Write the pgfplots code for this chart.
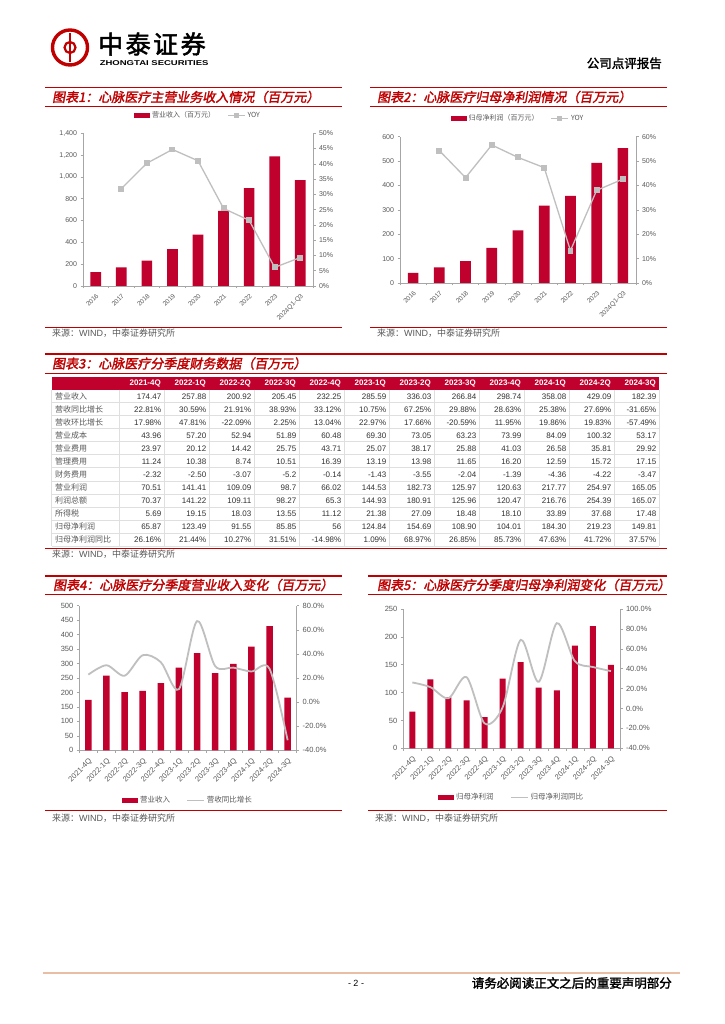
\documentclass[border=0pt]{standalone}
\usepackage{pgfplots}
\pgfplotsset{compat=1.18}
\usepackage{fontspec}
\setmainfont{Liberation Sans}
\newfontfamily\cjk{Noto Sans CJK SC}
\newfontfamily\cjkt[FakeSlant=0.18,FakeBold=2]{Noto Sans CJK SC}
\newfontfamily\cjkb[FakeBold=2]{Noto Sans CJK SC}
\definecolor{barred}{RGB}{192,0,45}
\definecolor{titred}{RGB}{192,0,0}
\definecolor{lgray}{RGB}{191,191,191}
\definecolor{tgray}{RGB}{89,89,89}
\definecolor{tdark}{RGB}{50,50,50}
\definecolor{foot}{RGB}{232,190,165}
\definecolor{agray}{RGB}{166,166,166}
\pgfplotsset{
  mystyle/.style={scale only axis, anchor=south west,
    axis line style={agray, line width=0.6pt},
    tick style={agray, line width=0.5pt}, tick align=outside,
    major tick length=2.5pt, minor tick length=2.5pt,
    ticklabel style={text=tgray},
    /pgf/number format/assume math mode=true, clip=false},
  barleg/.style={legend image code/.code={\fill[barred] (0pt,-2.5pt) rectangle (16pt,2.5pt);}},
}
\begin{document}
\begin{tikzpicture}[x=1pt,y=1pt]
\fill[white] (0,0) rectangle (724,1024);
\path[use as bounding box] (0,0) rectangle (724,1024);

% ---------- header ----------
\draw[titred, line width=3.4pt] (70,976.5) circle (17.5);
\draw[titred, line width=2.2pt] (70,962) -- (70,991);
\draw[titred, line width=2.2pt] (70,982) arc (90:270:5.5);
\draw[titred, line width=2.2pt] (70,971) arc (-90:90:5.5);
\node[anchor=west, inner sep=0, font=\cjkb\fontsize{25}{25}\selectfont\addfontfeatures{LetterSpace=10}] at (98,980) {中泰证券};
\node[anchor=west, inner sep=0, xscale=1.36, font=\bfseries\fontsize{7}{7}\selectfont] at (99.5,961) {ZHONGTAI SECURITIES};
\node[anchor=east, inner sep=0, font=\cjkb\fontsize{12.5}{12.5}\selectfont] at (662,960.7) {公司点评报告};

% ---------- section titles ----------
\foreach \xa/\xb/\ya/\yb in {45/342/936.7/918, 370/667/936.7/918, 45/667/670/651, 45/342/448/430, 368/667/448/430}{
  \draw[titred, line width=1.1pt] (\xa,\ya) -- (\xb,\ya);
  \draw[titred, line width=0.9pt] (\xa,\yb) -- (\xb,\yb);
}
\node[anchor=west, inner sep=0, text=titred, font=\cjkt\fontsize{13}{13}\selectfont] at (52,927) {图表1：心脉医疗主营业务收入情况（百万元）};
\node[anchor=west, inner sep=0, text=titred, font=\cjkt\fontsize{13}{13}\selectfont] at (377,927) {图表2：心脉医疗归母净利润情况（百万元）};
\node[anchor=west, inner sep=0, text=titred, font=\cjkt\fontsize{13}{13}\selectfont] at (52,660.5) {图表3：心脉医疗分季度财务数据（百万元）};
\node[anchor=west, inner sep=0, text=titred, font=\cjkt\fontsize{13}{13}\selectfont] at (53,439) {图表4：心脉医疗分季度营业收入变化（百万元）};
\node[anchor=west, inner sep=0, text=titred, font=\cjkt\fontsize{13}{13}\selectfont] at (377,439) {图表5：心脉医疗分季度归母净利润变化（百万元）};

% ---------- sources ----------
\foreach \xa/\xb/\yl/\yt in {45/342/696.7/691, 370/667/696.7/691, 45/667/476/469.5, 45/342/213.3/205.7, 368/667/213.3/205.7}{
  \draw[titred, line width=0.9pt] (\xa,\yl) -- (\xb,\yl);
  \node[anchor=west, inner sep=0, text=tgray, font=\cjk\fontsize{9}{9}\selectfont] at ({\xa+7},\yt) {来源：\fontspec{Liberation Sans}WIND\cjk，中泰证券研究所};
}

% ---------- footer ----------
\draw[foot, line width=1.6pt] (43,51) -- (680,51);
\node[inner sep=0, font=\fontsize{9}{9}\selectfont] at (356,41) {- 2 -};
\node[anchor=east, inner sep=0, font=\cjkb\fontsize{12.5}{12.5}\selectfont] at (672,41) {请务必阅读正文之后的重要声明部分};

% ---------- table ----------
\fill[barred] (51.7,647) rectangle (659,634.4);
\foreach \h [count=\c] in {2021-4Q,2022-1Q,2022-2Q,2022-3Q,2022-4Q,2023-1Q,2023-2Q,2023-3Q,2023-4Q,2024-1Q,2024-2Q,2024-3Q}{
  \node[anchor=east, inner sep=0, text=white, font=\bfseries\fontsize{8}{8}\selectfont] at ({119+45*\c-3},640.7) {\h};
}
\foreach \r in {1,...,12}{
  \draw[gray!25, line width=0.6pt] (51.7,{634.4-13.03*\r}) -- (659,{634.4-13.03*\r});
}
\foreach \c in {0,...,12}{
  \draw[gray!25, line width=0.6pt] ({119+45*\c},634.4) -- ({119+45*\c},478.1);
}
\draw[gray!25, line width=0.6pt] (51.7,634.4) -- (51.7,478.1);
\foreach \lab/\vals [count=\r] in {
营业收入/{174.47,257.88,200.92,205.45,232.25,285.59,336.03,266.84,298.74,358.08,429.09,182.39},
营收同比增长/{22.81\%,30.59\%,21.91\%,38.93\%,33.12\%,10.75\%,67.25\%,29.88\%,28.63\%,25.38\%,27.69\%,-31.65\%},
营收环比增长/{17.98\%,47.81\%,-22.09\%,2.25\%,13.04\%,22.97\%,17.66\%,-20.59\%,11.95\%,19.86\%,19.83\%,-57.49\%},
营业成本/{43.96,57.20,52.94,51.89,60.48,69.30,73.05,63.23,73.99,84.09,100.32,53.17},
营业费用/{23.97,20.12,14.42,25.75,43.71,25.07,38.17,25.88,41.03,26.58,35.81,29.92},
管理费用/{11.24,10.38,8.74,10.51,16.39,13.19,13.98,11.65,16.20,12.59,15.72,17.15},
财务费用/{-2.32,-2.50,-3.07,-5.2,-0.14,-1.43,-3.55,-2.04,-1.39,-4.36,-4.22,-3.47},
营业利润/{70.51,141.41,109.09,98.7,66.02,144.53,182.73,125.97,120.63,217.77,254.97,165.05},
利润总额/{70.37,141.22,109.11,98.27,65.3,144.93,180.91,125.96,120.47,216.76,254.39,165.07},
所得税/{5.69,19.15,18.03,13.55,11.12,21.38,27.09,18.48,18.10,33.89,37.68,17.48},
归母净利润/{65.87,123.49,91.55,85.85,56,124.84,154.69,108.90,104.01,184.30,219.23,149.81},
归母净利润同比/{26.16\%,21.44\%,10.27\%,31.51\%,-14.98\%,1.09\%,68.97\%,26.85\%,85.73\%,47.63\%,41.72\%,37.57\%}}{
  \node[anchor=west, inner sep=0, text=tgray, font=\cjk\fontsize{8}{8}\selectfont] at (55,{640.7-13.03*\r}) {\lab};
  \foreach \v [count=\c] in \vals {
    \node[anchor=east, inner sep=0, text=tdark, font=\fontsize{8}{8}\selectfont] at ({119+45*\c-2.5},{640.7-13.03*\r}) {\v};
  }
}

% ---------- chart 1 ----------
\coordinate (c1) at (83,738);
\begin{axis}[mystyle, at={(c1)}, width=230pt, height=152.7pt,
  xmin=-0.5, xmax=8.5, ymin=0, ymax=1400, ytick={0,200,...,1400},
  axis y line*=left, axis x line*=bottom,
  xtick={0,...,8}, xticklabels={2016,2017,2018,2019,2020,2021,2022,2023,2024Q1-Q3},
  major x tick style={draw=none}, minor xtick={-0.5,0.5,...,8.5},
  x tick label style={rotate=45, anchor=north east, font=\fontsize{6.5}{7}\selectfont},
  y tick label style={font=\fontsize{7}{8}\selectfont},
  /pgf/number format/1000 sep={,},
  legend style={at={(0.5,1)}, anchor=south, yshift=10pt, draw=none, fill=none,
    font=\cjk\fontsize{7}{8}\selectfont, text=tgray, legend columns=2,
    /tikz/every even column/.append style={column sep=10pt}},
  legend cell align=left]
\addplot[ybar, bar width=10.7pt, fill=barred, draw=none, barleg] coordinates {(0,128) (1,171) (2,232) (3,339) (4,471) (5,688) (6,896.5) (7,1187.2) (8,969.6)};
\addlegendentry{营业收入（百万元）}
\addlegendimage{lgray, line width=1.3pt, mark=square*, mark size=2pt, mark options={fill=lgray}}
\addlegendentry{YOY}
\end{axis}
\begin{axis}[mystyle, at={(c1)}, width=230pt, height=152.7pt,
  xmin=-0.5, xmax=8.5, ymin=0, ymax=50, ytick={0,5,...,50},
  axis y line*=right, axis x line=none,
  yticklabel={\pgfmathprintnumber{\tick}\%},
  y tick label style={font=\fontsize{7}{8}\selectfont}]
\addplot[lgray, line width=1.3pt, mark=square*, mark size=2.3pt, mark options={fill=lgray}] coordinates {(1,31.9) (2,40.2) (3,44.7) (4,41.0) (5,25.4) (6,21.5) (7,6.1) (8,9.3)};
\end{axis}

% ---------- chart 2 ----------
\coordinate (c2) at (400,741);
\begin{axis}[mystyle, at={(c2)}, width=236pt, height=146.3pt,
  xmin=-0.5, xmax=8.5, ymin=0, ymax=600, ytick={0,100,...,600},
  axis y line*=left, axis x line*=bottom,
  xtick={0,...,8}, xticklabels={2016,2017,2018,2019,2020,2021,2022,2023,2024Q1-Q3},
  major x tick style={draw=none}, minor xtick={-0.5,0.5,...,8.5},
  x tick label style={rotate=45, anchor=north east, font=\fontsize{6.5}{7}\selectfont},
  y tick label style={font=\fontsize{7}{8}\selectfont},
  legend style={at={(0.5,1)}, anchor=south, yshift=10pt, draw=none, fill=none,
    font=\cjk\fontsize{7}{8}\selectfont, text=tgray, legend columns=2,
    /tikz/every even column/.append style={column sep=10pt}},
  legend cell align=left]
\addplot[ybar, bar width=10.7pt, fill=barred, draw=none, barleg] coordinates {(0,41) (1,64) (2,90) (3,143.5) (4,216) (5,317) (6,357) (7,492.4) (8,553.3)};
\addlegendentry{归母净利润（百万元）}
\addlegendimage{lgray, line width=1.3pt, mark=square*, mark size=2pt, mark options={fill=lgray}}
\addlegendentry{YOY}
\end{axis}
\begin{axis}[mystyle, at={(c2)}, width=236pt, height=146.3pt,
  xmin=-0.5, xmax=8.5, ymin=0, ymax=60, ytick={0,10,...,60},
  axis y line*=right, axis x line=none,
  yticklabel={\pgfmathprintnumber{\tick}\%},
  y tick label style={font=\fontsize{7}{8}\selectfont}]
\addplot[lgray, line width=1.3pt, mark=square*, mark size=2.3pt, mark options={fill=lgray}] coordinates {(1,54.3) (2,43.2) (3,56.6) (4,51.5) (5,47.3) (6,13.3) (7,38.0) (8,42.6)};
\end{axis}

% ---------- chart 4 ----------
\coordinate (c4) at (79.3,273.7);
\begin{axis}[mystyle, at={(c4)}, width=217.4pt, height=144.6pt,
  xmin=-0.5, xmax=11.5, ymin=0, ymax=500, ytick={0,50,...,500},
  axis y line*=left, axis x line*=bottom,
  xtick={0,...,11}, xticklabels={2021-4Q,2022-1Q,2022-2Q,2022-3Q,2022-4Q,2023-1Q,2023-2Q,2023-3Q,2023-4Q,2024-1Q,2024-2Q,2024-3Q},
  major x tick style={draw=none}, minor xtick={-0.5,0.5,...,11.5},
  x tick label style={rotate=45, anchor=north east, font=\fontsize{7.5}{8}\selectfont},
  y tick label style={font=\fontsize{7.5}{8}\selectfont},
  legend style={at={(0.5,0)}, anchor=north, yshift=-42pt, draw=none, fill=none,
    font=\cjk\fontsize{7.5}{8}\selectfont, text=tgray, legend columns=2,
    /tikz/every even column/.append style={column sep=14pt}},
  legend cell align=left]
\addplot[ybar, bar width=6.5pt, fill=barred, draw=none, barleg] coordinates {(0,174.47) (1,257.88) (2,200.92) (3,205.45) (4,232.25) (5,285.59) (6,336.03) (7,266.84) (8,298.74) (9,358.08) (10,429.09) (11,182.39)};
\addlegendentry{营业收入}
\addlegendimage{lgray, line width=1.8pt}
\addlegendentry{营收同比增长}
\end{axis}
\begin{axis}[mystyle, at={(c4)}, width=217.4pt, height=144.6pt,
  xmin=-0.5, xmax=11.5, ymin=-40, ymax=80, ytick={-40,-20,...,80},
  axis y line*=right, axis x line=none,
  yticklabel={\pgfmathprintnumber[fixed,fixed zerofill,precision=1]{\tick}\%},
  y tick label style={font=\fontsize{7.5}{8}\selectfont}]
\addplot[lgray, line width=1.8pt, smooth] coordinates {(0,22.81) (1,30.59) (2,21.91) (3,38.93) (4,33.12) (5,10.75) (6,67.25) (7,29.88) (8,28.63) (9,25.38) (10,27.69) (11,-31.65)};
\end{axis}

% ---------- chart 5 ----------
\coordinate (c5) at (403.3,275.7);
\begin{axis}[mystyle, at={(c5)}, width=216.7pt, height=139.3pt,
  xmin=-0.5, xmax=11.5, ymin=0, ymax=250, ytick={0,50,...,250},
  axis y line*=left, axis x line*=bottom,
  xtick={0,...,11}, xticklabels={2021-4Q,2022-1Q,2022-2Q,2022-3Q,2022-4Q,2023-1Q,2023-2Q,2023-3Q,2023-4Q,2024-1Q,2024-2Q,2024-3Q},
  major x tick style={draw=none}, minor xtick={-0.5,0.5,...,11.5},
  x tick label style={rotate=45, anchor=north east, font=\fontsize{7.5}{8}\selectfont},
  y tick label style={font=\fontsize{7.5}{8}\selectfont},
  legend style={at={(0.5,0)}, anchor=north, yshift=-41pt, draw=none, fill=none,
    font=\cjk\fontsize{7.5}{8}\selectfont, text=tgray, legend columns=2,
    /tikz/every even column/.append style={column sep=14pt}},
  legend cell align=left]
\addplot[ybar, bar width=6pt, fill=barred, draw=none, barleg] coordinates {(0,65.87) (1,123.49) (2,91.55) (3,85.85) (4,56) (5,124.84) (6,154.69) (7,108.90) (8,104.01) (9,184.30) (10,219.23) (11,149.81)};
\addlegendentry{归母净利润}
\addlegendimage{lgray, line width=1.8pt}
\addlegendentry{归母净利润同比}
\end{axis}
\begin{axis}[mystyle, at={(c5)}, width=216.7pt, height=139.3pt,
  xmin=-0.5, xmax=11.5, ymin=-40, ymax=100, ytick={-40,-20,...,100},
  axis y line*=right, axis x line=none,
  yticklabel={\pgfmathprintnumber[fixed,fixed zerofill,precision=1]{\tick}\%},
  y tick label style={font=\fontsize{7.5}{8}\selectfont}]
\addplot[lgray, line width=1.8pt, smooth] coordinates {(0,26.16) (1,21.44) (2,10.27) (3,31.51) (4,-14.98) (5,1.09) (6,68.97) (7,26.85) (8,85.73) (9,47.63) (10,41.72) (11,37.57)};
\end{axis}
\end{tikzpicture}
\end{document}
